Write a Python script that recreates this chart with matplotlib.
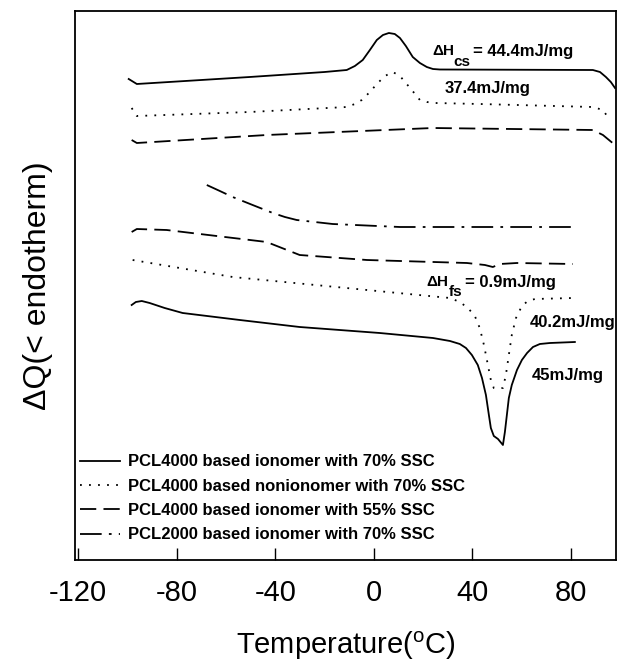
import matplotlib
matplotlib.use("Agg")
import matplotlib.pyplot as plt

plt.rcParams["font.family"] = ["Liberation Sans", "DejaVu Sans"]
plt.rcParams["axes.unicode_minus"] = False

# --- cooling scans (upper group) ---
cool_ion70_T = [-99.5, -96.2, -50.4, -20.0, -11.0, -7.7, -4.5, -1.6, 1.2, 3.7, 6.1, 8.5, 10.6, 13.0,
                15.8, 18.7, 21.5, 24.0, 26.8, 88.9, 91.8, 94.2, 96.2, 97.9]
cool_ion70_y = [48.1, 47.6, 48.3, 48.8, 49.0, 49.4, 50.0, 51.0, 52.0, 52.5, 52.7, 52.6, 52.2, 51.4,
                50.3, 49.7, 49.3, 49.1, 49.05, 49.0, 48.8, 48.3, 47.8, 47.2]

cool_non70_T = [-98.3, -96.2, -50.4, -11.0, -7.7, -4.9, -1.6, 1.2, 4.5, 7.7, 10.6, 13.0, 15.4, 18.7,
                21.5, 24.8, 43.0, 88.9, 93.0, 95.8]
cool_non70_y = [45.2, 44.4, 44.8, 45.3, 45.6, 46.0, 46.8, 47.6, 48.4, 48.8, 48.4, 47.7, 47.0, 46.0,
                45.8, 45.7, 45.6, 45.3, 45.0, 44.0]

cool_ion55_T = [-98.3, -96.2, -43.5, 24.0, 88.9, 93.0, 97.9]
cool_ion55_y = [42.0, 41.7, 42.5, 43.2, 43.0, 42.5, 41.5]

# --- heating scans (lower group) ---
heat_2000_T = [-67.8, -62.5, -57.3, -49.2, -41.0, -36.1, -31.3, -24.0, -16.7, 10.6, 80.8]
heat_2000_y = [37.5, 36.9, 36.3, 35.5, 34.7, 34.3, 34.0, 33.8, 33.6, 33.3, 33.3]

heat_ion55_T = [-98.3, -96.2, -84.1, -43.5, -30.1, -2.8, 37.8, 45.1, 48.3, 51.2, 58.1, 80.8]
heat_ion55_y = [32.8, 33.1, 33.0, 31.8, 30.5, 30.0, 29.7, 29.5, 29.3, 29.6, 29.7, 29.6]

heat_non70_T = [-97.9, -57.3, -2.8, 30.9, 34.9, 38.2, 41.0, 43.0, 44.7, 46.3, 47.5, 48.7, 52.4,
                53.6, 54.8, 56.0, 57.7, 60.1, 62.5, 65.4, 80.8]
heat_non70_y = [30.0, 28.3, 27.0, 26.2, 25.8, 25.2, 24.4, 23.2, 21.5, 19.5, 18.0, 17.2, 17.2,
                18.5, 20.5, 22.5, 24.2, 25.4, 25.9, 26.1, 26.2]

heat_ion70_T = [-98.3, -96.6, -94.2, -91.0, -84.9, -77.6, -54.4, -30.1, 2.4, 24.0, 30.9, 34.9,
                37.4, 39.8, 42.2, 43.9, 45.5, 46.7, 47.5, 48.7, 50.4, 52.4, 53.2, 54.0, 54.8,
                56.0, 58.1, 60.1, 62.2, 64.6, 67.4, 71.5, 81.6]
heat_ion70_y = [25.5, 25.8, 25.9, 25.7, 25.2, 24.7, 24.0, 23.3, 22.7, 22.2, 21.9, 21.6,
                21.2, 20.5, 19.5, 18.2, 16.5, 14.5, 13.2, 12.4, 12.1, 11.5, 12.8, 14.5, 16.2,
                17.5, 19.0, 20.0, 20.7, 21.3, 21.6, 21.7, 21.8]

labels = [
    "PCL4000 based ionomer with 70% SSC",
    "PCL4000 based nonionomer with 70% SSC",
    "PCL4000 based ionomer with 55% SSC",
    "PCL2000 based ionomer with 70% SSC",
]
xticks = [-120, -80, -40, 0, 40, 80]

SOLID = "-"
DOT = (0, (1, 4))
DASH = (0, (9, 4))
DASHDOT = (0, (12, 4, 1.5, 4))

fig = plt.figure(figsize=(6.18, 6.64), dpi=100)
ax = fig.add_axes([75 / 618, 1 - 560 / 664, (616 - 75) / 618, (560 - 11) / 664])

lw = 1.3
ax.plot(cool_ion70_T, cool_ion70_y, color="black", lw=lw, ls=SOLID, label=labels[0])
ax.plot(cool_non70_T, cool_non70_y, color="black", lw=lw, ls=DOT, label=labels[1])
ax.plot(cool_ion55_T, cool_ion55_y, color="black", lw=lw, ls=DASH, label=labels[2])
ax.plot(heat_2000_T, heat_2000_y, color="black", lw=lw, ls=DASHDOT, label=labels[3])
ax.plot(heat_ion55_T, heat_ion55_y, color="black", lw=lw, ls=DASH)
ax.plot(heat_non70_T, heat_non70_y, color="black", lw=lw, ls=DOT)
ax.plot(heat_ion70_T, heat_ion70_y, color="black", lw=lw, ls=SOLID)

afont = dict(fontweight="bold", color="black", ha="left", va="center")
# crystallisation enthalpies (cooling)
ax.text(23.6, 50.9, "ΔH", fontsize=11, **afont)
ax.text(32.1, 49.8, "cs", fontsize=11, **afont)
ax.text(40.2, 50.9, "= 44.4mJ/mg", fontsize=12, **afont)
ax.text(28.8, 47.2, "37.4mJ/mg", fontsize=12, **afont)
# fusion enthalpies (heating)
ax.text(21.5, 27.8, "ΔH", fontsize=11, **afont)
ax.text(30.5, 26.8, "fs", fontsize=11, **afont)
ax.text(37.0, 27.8, "= 0.9mJ/mg", fontsize=12, **afont)
ax.text(63.4, 23.8, "40.2mJ/mg", fontsize=12, **afont)
ax.text(64.2, 18.5, "45mJ/mg", fontsize=12, **afont)

ax.set_xlim(-121.3, 98.3)
ax.set_ylim(0, 54.9)
ax.set_xticks(xticks)
ax.set_yticks([])
ax.tick_params(axis="x", direction="in", length=9, width=1, pad=14, labelsize=21)
for s in ax.spines.values():
    s.set_linewidth(1.3)

ax.set_xlabel("Temperature($^{\\mathregular{o}}$C)", fontsize=21, labelpad=16)
ax.set_ylabel("ΔQ(< endotherm)", fontsize=23, labelpad=16)

leg = ax.legend(loc="lower left", bbox_to_anchor=(0.009, 0.032), frameon=False,
                handlelength=2.4, handletextpad=0.5, labelspacing=0.56,
                borderaxespad=0.0, borderpad=0.0,
                prop=dict(family="Liberation Sans", weight="bold", size=12))

fig.savefig("out.png", dpi=100)
